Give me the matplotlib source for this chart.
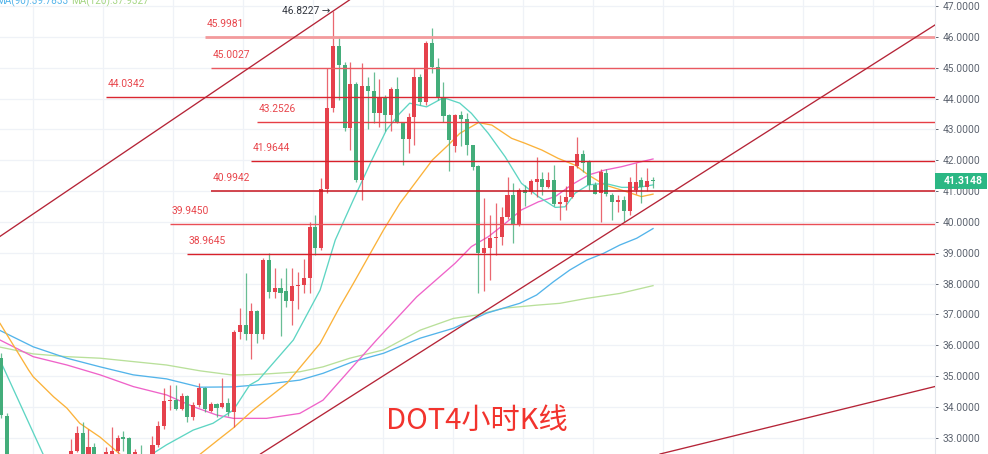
import numpy as np
import matplotlib
matplotlib.use("Agg")
import matplotlib.pyplot as plt
from matplotlib.patches import Rectangle
from matplotlib.transforms import blended_transform_factory

# ---- 4h candles (index 0 = leftmost), None = below the visible price range ----
opens = [35.58, 33.72, None, None, None, None, None, None, None, None,
         None, None, 32.40, 32.58, 33.16, 32.40, 32.70, None, 32.40, 32.40,
         32.58, 33.01, 32.98, 32.40, 32.45, None, 32.40, 32.77, 33.38, 34.19,
         34.22, 33.93, 34.35, 33.68, 34.06, 34.60, 33.88, 34.08, 33.99, 34.14,
         33.85, 36.42, 36.66, 36.36, 37.11, 36.36, 38.76, 37.74, 37.85, 37.77,
         37.44, 37.92, 37.95, 38.19, 39.84, 39.14, 41.06, 43.68, 45.70, 45.09,
         43.03, 44.47, 41.36, 44.42, 44.25, 43.52, 44.06, 43.47, 44.30, 43.25,
         42.68, 43.41, 44.71, 43.90, 45.81, 45.01, 44.04, 43.47, 42.45, 43.47,
         43.33, 42.48, 41.81, 38.98, 39.16, 39.47, 39.52, 40.17, 40.87, 39.90,
         41.03, 40.98, 41.30, 41.38, 41.14, 41.36, 40.57, 40.65, 40.81, 41.81,
         42.20, 41.95, 41.19, 40.93, 41.60, 40.87, 40.65, 40.70, 40.36, 41.03,
         41.36, 41.12, 41.36]
highs = [35.75, 33.80, None, None, None, None, None, None, None, None,
         None, None, 32.96, 33.38, 33.52, 33.28, 32.84, None, 32.70, 33.36,
         33.10, 33.22, 33.03, 32.62, 32.75, None, 33.06, 33.55, 34.60, 34.71,
         34.71, 34.45, 34.40, 34.17, 34.79, 34.66, 34.17, 34.12, 34.95, 34.29,
         36.50, 37.20, 38.33, 37.38, 37.15, 38.82, 38.98, 38.50, 38.17, 38.50,
         38.50, 38.38, 38.79, 40.00, 40.22, 41.41, 44.98, 46.8227, 46.00, 45.20,
         45.19, 44.55, 45.14, 44.70, 44.87, 44.62, 44.10, 44.36, 44.70, 43.25,
         43.52, 44.98, 44.78, 45.87, 46.28, 45.33, 44.55, 43.50, 43.50, 43.60,
         43.52, 42.50, 41.85, 40.76, 40.22, 40.61, 40.47, 41.47, 41.25, 41.10,
         41.20, 41.40, 42.10, 41.63, 41.62, 41.85, 40.87, 41.17, 41.82, 42.76,
         42.33, 42.00, 41.30, 41.73, 41.70, 40.95, 40.87, 40.85, 41.47, 41.90,
         41.47, 41.74, 41.47]
lows = [33.64, 32.10, None, None, None, None, None, None, None, None,
        None, None, 32.30, 32.54, 32.30, 32.30, 32.30, None, 32.30, 32.30,
        32.50, 32.58, 32.30, 32.30, 32.30, None, 32.30, 32.70, 33.30, 33.90,
        33.90, 33.90, 33.52, 33.58, 34.00, 33.85, 33.85, 33.68, 33.98, 33.72,
        33.36, 36.20, 36.17, 35.54, 36.06, 36.20, 37.52, 37.52, 36.30, 37.25,
        36.66, 37.18, 37.70, 37.70, 38.93, 39.10, 40.95, 43.57, 43.95, 42.95,
        42.33, 41.30, 40.71, 43.00, 43.22, 43.09, 42.95, 42.95, 43.20, 41.84,
        42.22, 42.49, 43.80, 43.80, 44.84, 43.95, 43.25, 41.66, 42.27, 42.45,
        42.17, 41.68, 37.70, 37.77, 38.12, 38.93, 39.25, 40.10, 39.30, 39.88,
        40.50, 40.90, 40.80, 40.87, 41.10, 40.50, 40.06, 40.38, 40.78, 41.75,
        41.63, 41.03, 40.90, 40.00, 40.85, 40.06, 40.33, 40.00, 40.22, 40.90,
        40.60, 41.01, 41.10]
closes = [33.74, 32.20, None, None, None, None, None, None, None, None,
          None, None, 32.58, 33.16, 32.40, 32.70, 32.40, None, 32.55, 32.58,
          32.98, 32.97, 32.40, 32.55, 32.30, None, 32.77, 33.38, 34.19, 34.22,
          33.93, 34.35, 33.68, 34.06, 34.60, 33.93, 34.08, 33.98, 34.14, 33.85,
          36.44, 36.66, 36.36, 37.11, 36.36, 38.76, 37.74, 37.85, 37.70, 37.44,
          37.92, 37.95, 38.19, 39.84, 39.14, 41.06, 43.68, 45.70, 45.09, 43.03,
          44.47, 41.36, 44.42, 44.25, 43.52, 44.06, 43.47, 44.30, 43.25, 42.68,
          43.41, 44.71, 43.90, 45.81, 45.01, 44.04, 43.43, 42.67, 43.47, 43.33,
          42.48, 41.79, 38.98, 39.16, 39.47, 39.52, 40.17, 40.87, 39.93, 41.03,
          40.95, 41.33, 41.38, 41.14, 41.36, 40.58, 40.65, 40.81, 41.81, 42.20,
          41.90, 41.19, 40.92, 41.63, 40.90, 40.65, 40.70, 40.36, 41.30, 41.30,
          41.14, 41.34, 41.3148]
last_price = 41.3148

# ---- moving averages (candle index, price) ----
ma_teal_x = [-0.2, 7.2, None, 25.9, 28.4, 33.0, 36.4, 39.9, 42.7, 44.2, 50.2, 54.8,
             57.4, 60.5, 63.7, 66.2, 68.5, 70.2, 73.1, 76.0, 78.8, 80.8, 83.7,
             86.6, 89.4, 92.3, 95.2, 96.9, 98.6, 100.9, 103.7, 106.6, 109.5, 112.0]
ma_teal_y = [35.52, 32.47, None, 32.47, 32.77, 33.25, 33.47, 33.90, 34.71, 34.87, 36.17,
             37.79, 39.41, 40.71, 42.01, 42.98, 43.52, 43.85, 43.73, 44.03, 43.85,
             43.52, 42.87, 42.11, 41.25, 40.82, 40.47, 40.49, 40.93, 41.20, 41.25,
             41.12, 41.12, 41.20]
ma_orange_x = [-0.2, 4.7, 5.5, 9.0, 11.3, 13.5, 17.0, 20.4, None, 34.2, 37.6, 39.9,
               43.3, 49.1, 54.8, 58.2, 60.5, 65.7, 68.5, 74.1, 76.8, 78.8, 82.0,
               84.3, 87.7, 90.0, 92.9, 95.7, 98.6, 100.9, 103.7, 106.6, 110.0, 112.0]
ma_orange_y = [36.71, 35.20, 34.98, 34.33, 33.96, 33.47, 33.02, 32.47, None, 32.47,
               32.98, 33.32, 33.90, 34.77, 36.06, 37.25, 38.00, 39.74, 40.60, 42.01,
               42.49, 42.87, 43.22, 43.14, 42.71, 42.55, 42.33, 42.06, 41.84, 41.52,
               41.20, 41.03, 40.82, 40.90]
ma_pink_x = [-0.2, 5.5, 11.3, 17.0, 22.7, 28.4, 33.0, 37.0, 39.9, 45.6, 51.3, 55.3,
             59.9, 64.5, 71.4, 78.0, 80.8, 83.7, 86.6, 89.4, 92.3, 95.2, 98.0,
             100.9, 103.7, 106.6, 109.5, 112.0]
ma_pink_y = [36.17, 35.63, 35.36, 35.04, 34.66, 34.39, 34.01, 33.74, 33.63, 33.63,
             33.79, 34.22, 35.20, 36.17, 37.57, 38.66, 39.20, 39.52, 39.95, 40.39,
             40.65, 40.82, 41.20, 41.52, 41.68, 41.79, 41.93, 42.04]
ma90_x = [-0.2, 5.5, 11.3, 17.0, 22.7, 28.4, 34.2, 39.9, 45.6, 51.3, 55.3, 60.5,
          65.7, 72.0, 77.7, 83.4, 89.1, 92.0, 94.9, 97.7, 100.6, 103.5, 106.3,
          109.2, 112.0]
ma90_y = [36.48, 35.95, 35.58, 35.30, 35.04, 34.91, 34.64, 34.65, 34.74, 34.87,
          35.09, 35.47, 35.74, 36.23, 36.55, 37.04, 37.36, 37.63, 38.06, 38.44,
          38.76, 38.98, 39.25, 39.47, 39.7833]
ma120_x = [-0.2, 5.5, 11.3, 17.0, 22.7, 28.4, 34.2, 39.9, 45.6, 51.3, 55.3, 59.9,
           65.7, 72.0, 77.7, 81.7, 86.3, 92.0, 96.0, 100.6, 106.3, 112.0]
ma120_y = [35.94, 35.72, 35.63, 35.58, 35.47, 35.36, 35.17, 35.03, 35.07, 35.14,
           35.30, 35.58, 35.85, 36.49, 36.87, 36.98, 37.20, 37.30, 37.36, 37.52,
           37.68, 37.9327]

# ---- drawn levels and trend lines ----
levels = [45.9981, 45.0027, 44.0342, 43.2526, 41.9644, 40.9942, 39.9450, 38.9645]
level_start = [35, 36, 18, 44, 43, 36, 29, 32]
trend_upper = [(-0.2, 39.53), (59.8, 47.19)]
trend_support = [(86.0, 37.45), (160.4, 46.38)]
trend_lower = [(137.3, 33.59), (160.4, 34.66)]
peak_idx, peak_price = 57, 46.8227

UP = '#e5414c'
DOWN = '#43ad7a'

fig = plt.figure(figsize=(9.88, 4.54), dpi=100)
fig.patch.set_facecolor('white')
ax = fig.add_axes([0, 0, 935 / 988, 1])
ax.set_xlim(-0.2, 160.45)
ax.set_ylim(32.474, 47.195)

# grid
for p in range(33, 48):
    ax.axhline(p, color='#eff2f7', lw=0.9, zorder=0)
for gx in np.arange(5.4, 161, 12.03):
    ax.axvline(gx, color='#eff2f7', lw=0.9, zorder=0)

# moving averages
def ma_line(xs, ys, color):
    x = np.array([np.nan if v is None else v for v in xs], dtype=float)
    y = np.array([np.nan if v is None else v for v in ys], dtype=float)
    ax.plot(x, y, color=color, lw=0.95, zorder=2)

ma_line(ma120_x, ma120_y, '#b9e09a')
ma_line(ma90_x, ma90_y, '#53b4ea')
ma_line(ma_pink_x, ma_pink_y, '#ef63c9')
ma_line(ma_orange_x, ma_orange_y, '#fbb23a')
ma_line(ma_teal_x, ma_teal_y, '#5ed5c3')

# candles
for i, (o, h, l, c) in enumerate(zip(opens, highs, lows, closes)):
    if o is None:
        continue
    col = UP if c >= o else DOWN
    ax.vlines(i, l, h, color=col, lw=0.9, alpha=0.8, zorder=3)
    body = max(abs(c - o), 0.05)
    ax.bar(i, body, bottom=min(o, c), width=0.7, color=col, lw=0, zorder=4)

# horizontal levels
level_colors = ['#f39a9c', '#ea5860', '#da2630', '#e63e46', '#d8212a', '#c7151f', '#ea4e56', '#d8212a']
level_widths = [2.0, 1.0, 1.0, 1.0, 1.0, 1.1, 1.0, 1.0]
for lv, st, lc, lw in zip(levels, level_start, level_colors, level_widths):
    ax.hlines(lv, st, 161, color=lc, lw=lw, zorder=5)
    ax.annotate(f"{lv:.4f}", xy=(st, lv), xytext=(1.5, 13), textcoords='offset pixels',
                ha='left', va='center', fontsize=7.4, color='#e8464c', family='Roboto')

# trend lines
for pts in (trend_upper, trend_support, trend_lower):
    ax.axline(pts[0], pts[1], color='#b52437', lw=0.95, zorder=5)

ax.annotate(f"{peak_price:.4f} →", xy=(peak_idx, peak_price), xytext=(-3, 0),
            textcoords='offset pixels', ha='right', va='center', fontsize=7.4,
            color='#333740', family=['Roboto', 'DejaVu Sans'])

# price axis
for s in ('left', 'top', 'bottom'):
    ax.spines[s].set_visible(False)
ax.spines['right'].set_color('#e3e6ec')
ax.set_xticks([])
ax.yaxis.tick_right()
ticks = list(range(33, 48))
ax.set_yticks(ticks)
ax.set_yticklabels([f"{t:.4f}" for t in ticks], family='Roboto')
ax.tick_params(axis='y', labelsize=7.4, colors='#5d6470', length=2.2, width=0.7, pad=3.6)
for lab in ax.get_yticklabels():
    lab.set_color('#5d6470')

tr = blended_transform_factory(ax.transAxes, ax.transData)
ax.add_patch(Rectangle((1.0, last_price - 0.26), 52 / 935, 0.52, transform=tr,
                       facecolor='#2bb784', edgecolor='none', clip_on=False, zorder=6))
ax.text(1.0 + 28 / 935, last_price, f"{last_price:.4f}", transform=tr, ha='center', va='center',
        color='white', fontsize=7.5, fontweight='bold', family='Roboto', clip_on=False, zorder=7)

# MA legend (cut off by the top-left corner, as in the screenshot)
fig.text(-4 / 988, 1 - 4 / 454, "MA(90):39.7833", color='#53b4ea', fontsize=7.2,
         va='baseline', family='Roboto')
fig.text(71 / 988, 1 - 4 / 454, "MA(120):37.9327", color='#a5d684', fontsize=7.2,
         va='baseline', family='Roboto')

ax.text(477 / 935, 0.0727, 'DOT4小时K线', transform=ax.transAxes, ha='center', va='center',
        fontsize=21, color='#f2332d', family=['Noto Sans CJK SC', 'DejaVu Sans'], zorder=8)

fig.savefig('out.png', dpi=100, facecolor='white')
